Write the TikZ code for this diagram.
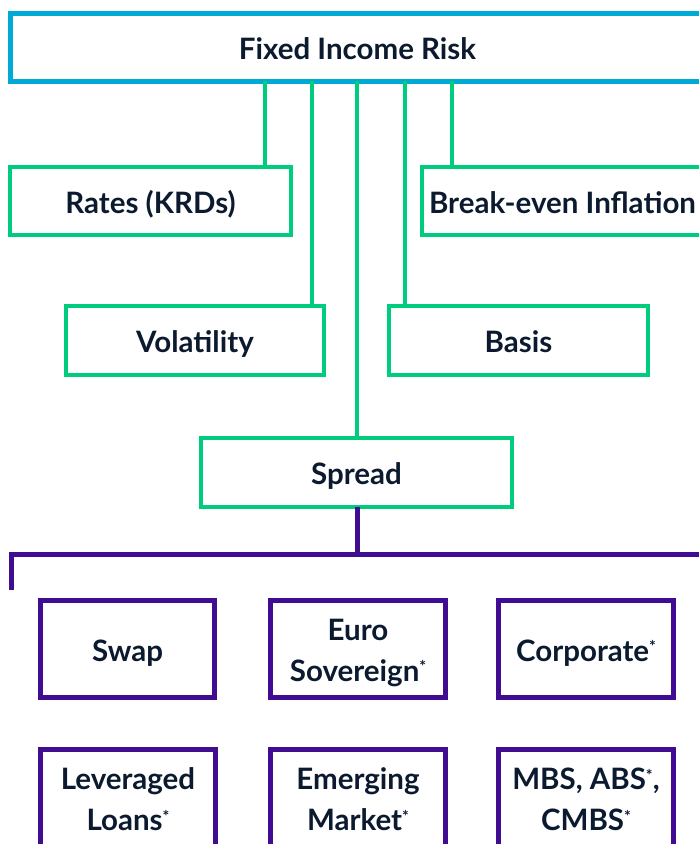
\documentclass[tikz,border=0pt]{standalone}
\usepackage{fontspec}
\setmainfont{Lato}[BoldFont={Lato Bold}]
\definecolor{topblue}{RGB}{0,170,214}
\definecolor{riskgreen}{RGB}{0,204,126}
\definecolor{sprpurple}{RGB}{64,12,146}
\definecolor{txtnavy}{RGB}{12,26,48}
\newcommand\supast{\raisebox{0.30em}{\fontsize{16}{16}\selectfont *}}
\tikzset{
  box/.style={draw, rectangle, inner sep=0pt, outer sep=0pt, align=center,
    text=txtnavy, font=\bfseries\fontsize{29.5}{41}\selectfont},
  oneline/.style={text height=24pt, text depth=0pt},
  topbox/.style={box, oneline, draw=topblue, line width=5pt},
  gbox/.style={box, oneline, draw=riskgreen, line width=4.5pt},
  pbox/.style={box, draw=sprpurple, line width=5pt, minimum height=97pt},
  gline/.style={draw=riskgreen, line width=3.6pt},
  pline/.style={draw=sprpurple, line width=5pt},
}
\begin{document}
\begin{tikzpicture}[x=1pt,y=-1pt]
\useasboundingbox (0,0) rectangle (699,844);
\clip (0,0) rectangle (699,844);
% top
\node[topbox, minimum width=695pt, minimum height=68pt] (top) at (357.5,47) {Fixed Income Risk};
% green boxes
\node[gbox, minimum width=281pt, minimum height=68pt] (rates) at (150.5,201) {Rates (KRDs)};
\node[gbox, minimum width=281pt, minimum height=68pt] (bei) at (562.5,201) {Break-even Inflation};
\node[gbox, minimum width=258pt, minimum height=69pt] (vol) at (195,340.5) {Volatility};
\node[gbox, minimum width=259pt, minimum height=69pt] (basis) at (518.5,340.5) {Basis};
\node[gbox, minimum width=311pt, minimum height=69pt] (spread) at (356.5,472.5) {Spread};
% connector columns
\coordinate (c1) at (265,0);
\coordinate (c2) at (312,0);
\coordinate (c3) at (357,0);
\coordinate (c4) at (405,0);
\coordinate (c5) at (452,0);
\draw[gline] (top.south -| c1) -- (rates.north -| c1);
\draw[gline] (top.south -| c2) -- (vol.north -| c2);
\draw[gline] (top.south -| c3) -- (spread.north -| c3);
\draw[gline] (top.south -| c4) -- (basis.north -| c4);
\draw[gline] (top.south -| c5) -- (bei.north -| c5);
% purple boxes
\node[pbox, oneline, minimum width=174pt] (swap) at (127.5,649) {Swap};
\node[pbox, minimum width=175pt] (euro) at (358,649) {\rule{0pt}{29pt}Euro\\Sovereign\supast};
\node[pbox, oneline, minimum width=175pt] (corp) at (586,649) {Corporate\supast};
\node[pbox, minimum width=175pt] (lev) at (128,798) {\rule{0pt}{25pt}Leveraged\\Loans\supast};
\node[pbox, minimum width=175pt] (em) at (358,798) {\rule{0pt}{25pt}Emerging\\Market\supast};
\node[pbox, minimum width=175pt] (mbs) at (586,798) {\rule{0pt}{25pt}MBS, ABS\supast,\\CMBS\supast};
% spread bracket
\coordinate (bl) at (11,554);
\coordinate (br) at (705,554);
\draw[pline] (spread.south -| c3) -- (bl -| c3);
\draw[pline, line cap=rect] (bl) ++(0,33) -- (bl) -- (br) -- ++(0,33);
\end{tikzpicture}
\end{document}
